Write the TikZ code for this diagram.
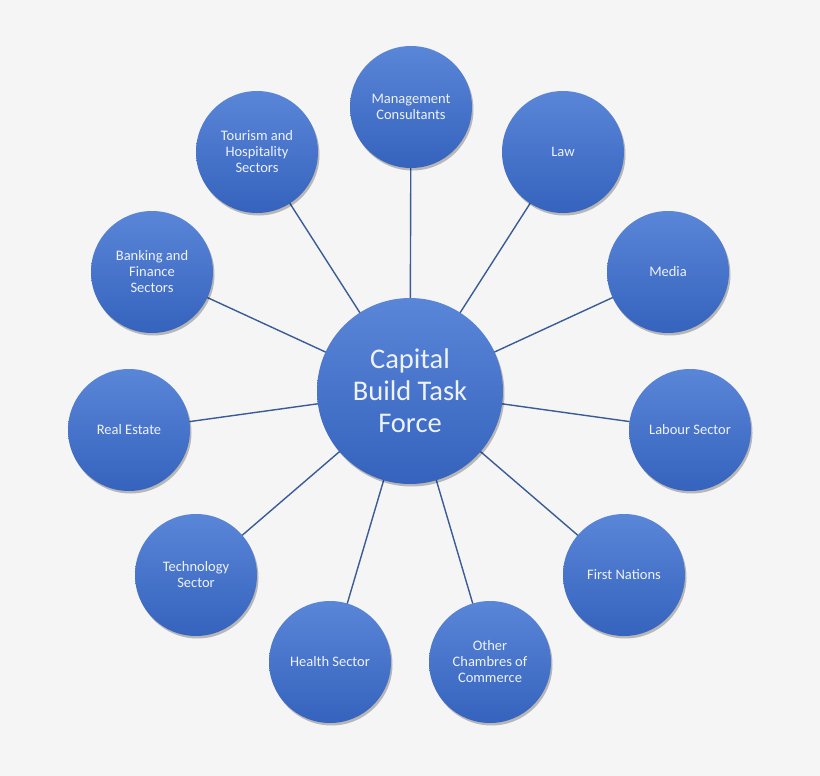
\documentclass[tikz,border=0pt]{standalone}
\usepackage{fontspec}
\setmainfont{Carlito}
\usetikzlibrary{shadows}
\definecolor{bg}{HTML}{F5F5F5}
\definecolor{ctop}{HTML}{5A86D8}
\definecolor{cbot}{HTML}{3563BD}
\definecolor{linkc}{HTML}{3A5C96}
\definecolor{txt}{HTML}{EEF2FA}
\tikzset{
  bubble/.style={circle, minimum size=122pt, inner sep=0pt, top color=ctop, bottom color=cbot, draw=none,
    text=txt, align=center, font=\fontsize{14.5}{16}\selectfont,
    drop shadow={shadow xshift=1.5pt, shadow yshift=-2.5pt, opacity=0.25, fill=black}},
  hub/.style={bubble, minimum size=186pt, font=\fontsize{28.5}{32}\selectfont},
  link/.style={draw=linkc, line width=1.4pt}
}
\begin{document}
\begin{tikzpicture}[x=1pt,y=-1pt]
\fill[bg] (0,0) rectangle (820,776);
\useasboundingbox (0,0) rectangle (820,776);
\coordinate (pc) at (410,391);
\coordinate (p1) at (411,107);
\coordinate (p2) at (563,152);
\coordinate (p3) at (668,272);
\coordinate (p4) at (690,430);
\coordinate (p5) at (624,575);
\coordinate (p6) at (490,662);
\coordinate (p7) at (330,662);
\coordinate (p8) at (196,575);
\coordinate (p9) at (129,430);
\coordinate (p10) at (152,272);
\coordinate (p11) at (257,152);
\foreach \i in {1,...,11} \draw[link] (pc) -- (p\i);
\node[hub] (c) at (pc) {Capital\\Build Task\\Force};
\node[bubble] (n1) at (p1) {Management\\Consultants};
\node[bubble] (n2) at (p2) {Law};
\node[bubble] (n3) at (p3) {Media};
\node[bubble] (n4) at (p4) {Labour Sector};
\node[bubble] (n5) at (p5) {First Nations};
\node[bubble] (n6) at (p6) {Other\\Chambres of\\Commerce};
\node[bubble] (n7) at (p7) {Health Sector};
\node[bubble] (n8) at (p8) {Technology\\Sector};
\node[bubble] (n9) at (p9) {Real Estate};
\node[bubble] (n10) at (p10) {Banking and\\Finance\\Sectors};
\node[bubble] (n11) at (p11) {Tourism and\\Hospitality\\Sectors};
\end{tikzpicture}
\end{document}
